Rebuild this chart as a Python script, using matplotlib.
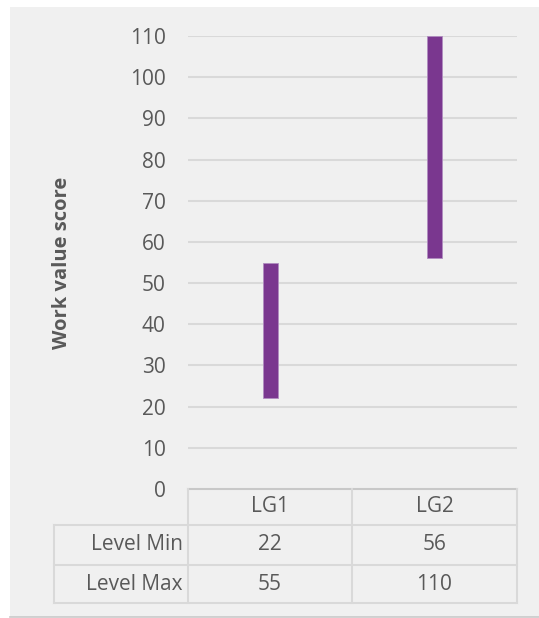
import matplotlib
matplotlib.use("Agg")
import matplotlib.pyplot as plt
from matplotlib.patches import Rectangle

categories = ["LG1", "LG2"]
level_min = [22, 56]
level_max = [55, 110]
row_labels = ["Level Min", "Level Max"]
y_ticks = list(range(0, 111, 10))

W, H = 539, 618
fig = plt.figure(figsize=(W / 100, H / 100), dpi=100)
fig.patch.set_facecolor("white")
plt.rcParams["font.family"] = ["Open Sans", "DejaVu Sans"]

txt = "#595959"
grid = "#d9d9d9"
bar_col = "#7a378f"
fs = 15

# chart background panel
bg = fig.add_axes([0, 0, 1, 1], zorder=-5)
bg.set_xlim(0, W)
bg.set_ylim(H, 0)
bg.axis("off")
bg.add_patch(Rectangle((10, 7), W - 10, 610, facecolor="#f0f0f0", edgecolor="none"))
bg.plot([10, W], [616.5, 616.5], color="#c9c9c9", lw=1.2)

left, right, top, bottom = 188, 517, 36, 489
ax = fig.add_axes([left / W, 1 - bottom / H, (right - left) / W, (bottom - top) / H])
ax.set_facecolor("none")
ax.set_xlim(0, 2)
ax.set_ylim(0, 110)
for s in ax.spines.values():
    s.set_visible(False)
ax.set_xticks([])
ax.set_yticks(y_ticks)
ax.set_yticklabels([str(t) for t in y_ticks], fontsize=fs, color=txt)
ax.tick_params(axis="y", length=0, pad=16)
for t in y_ticks[1:]:
    ax.axhline(t, color=grid, lw=1.5, zorder=1)

xs = [0.5, 1.5]
heights = [mx - mn for mn, mx in zip(level_min, level_max)]
ax.bar(xs, heights, bottom=level_min, width=0.09, color=bar_col,
       edgecolor="#b08cc0", linewidth=0.6, zorder=3)

ax.set_ylabel("Work value score", fontsize=14.5, fontweight="bold", color=txt)
ax.yaxis.set_label_coords((72 - left) / (right - left), 0.5)

# data table beneath the plot
def ay(py):
    return (bottom - py) / (bottom - top)

def axx(px):
    return (px - left) / (right - left)

lkw = dict(color=grid, lw=1.5, clip_on=False, transform=ax.transAxes, zorder=2)
col_x = [188, 352, 517]
ax.plot([axx(188), axx(517)], [ay(489), ay(489)], **{**lkw, "color": "#c8c8c8"})
for cx in col_x:
    ax.plot([axx(cx), axx(cx)], [ay(489), ay(603)], **lkw)
for ry in [525, 565, 603]:
    ax.plot([axx(54), axx(517)], [ay(ry), ay(ry)], **lkw)
ax.plot([axx(54), axx(54)], [ay(525), ay(603)], **lkw)

tkw = dict(fontsize=fs, color=txt, transform=ax.transAxes, clip_on=False, va="center")
centers = [(col_x[i] + col_x[i + 1]) / 2 for i in range(2)]
for i, cat in enumerate(categories):
    ax.text(axx(centers[i]), ay(507), cat, ha="center", **tkw)
    ax.text(axx(centers[i]), ay(545), str(level_min[i]), ha="center", **tkw)
    ax.text(axx(centers[i]), ay(584), str(level_max[i]), ha="center", **tkw)
ax.text(axx(183), ay(545), row_labels[0], ha="right", **tkw)
ax.text(axx(183), ay(584), row_labels[1], ha="right", **tkw)

fig.savefig("out.png", dpi=100, facecolor="white")
